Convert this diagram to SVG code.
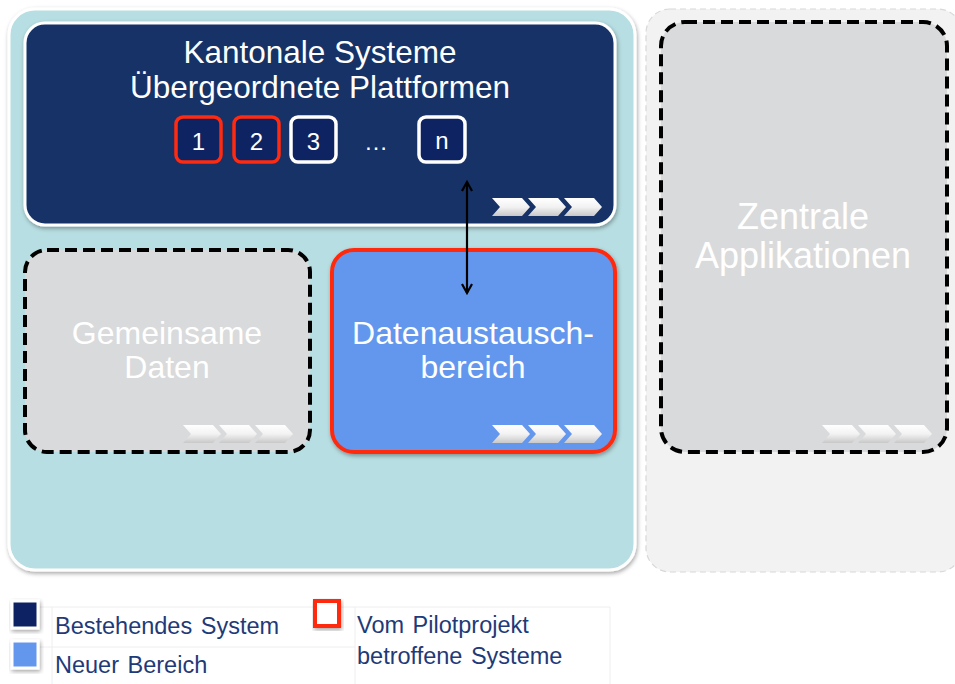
<svg xmlns="http://www.w3.org/2000/svg" width="955" height="684" viewBox="0 0 955 684">
<defs>
<style>
.t{font-family:"Liberation Sans",Arial,sans-serif;fill:#fff;text-anchor:middle}
.big{font-size:31.5px}
.dash{fill:#d9dadb;stroke:#000;stroke-width:4;stroke-dasharray:12 6}
.sb{fill:#0e2462;stroke-width:3.5}
.leg{font-family:"Liberation Sans",Arial,sans-serif;font-size:23.5px;fill:#1f3a78;word-spacing:2px}
.grid{stroke:#eeeeee;stroke-width:1;fill:none}
</style>
<filter id="sh" x="-10%" y="-10%" width="130%" height="130%">
<feDropShadow dx="1" dy="2" stdDeviation="2" flood-color="#000" flood-opacity="0.35"/>
</filter>
<linearGradient id="cg" x1="0" y1="0" x2="0" y2="1">
<stop offset="0" stop-color="#ffffff"/>
<stop offset="0.5" stop-color="#f2f2f2"/>
<stop offset="1" stop-color="#c8c8c8"/>
</linearGradient>
<g id="chev">
<path d="M0,0 H30 L38,9 L30,18 H0 L8,9 Z" fill="url(#cg)"/>
<path d="M36,0 H66 L74,9 L66,18 H36 L44,9 Z" fill="url(#cg)"/>
<path d="M72,0 H102 L110,9 L102,18 H72 L80,9 Z" fill="url(#cg)"/>
</g>
<marker id="ah" viewBox="0 0 12 12" refX="10" refY="6" markerWidth="12" markerHeight="12" markerUnits="userSpaceOnUse" orient="auto-start-reverse">
<path d="M1,1 L10,6 L1,11" fill="none" stroke="#000" stroke-width="2.2"/>
</marker>
</defs>
<rect width="955" height="684" fill="#fff"/>

<g id="outer">
<rect x="9" y="9" width="626" height="561" rx="26" fill="#b7dee2" stroke="#fff" stroke-width="3" filter="url(#sh)"/>
</g>

<g id="rightContainer">
<rect x="646" y="9" width="316" height="563" rx="24" fill="#f2f2f2" stroke="#d8d8d8" stroke-width="1.2" stroke-dasharray="6 4"/>
</g>

<g id="kantonale">
<rect x="25" y="23" width="590" height="202" rx="20" fill="#143366" stroke="#fff" stroke-width="3" filter="url(#sh)"/>
<text class="t big" x="320" y="63">Kantonale Systeme</text>
<text class="t big" x="320" y="98">Übergeordnete Plattformen</text>
<use href="#chev" x="492" y="198"/>
</g>

<g id="sys1"><rect class="sb" x="176" y="117" width="45" height="45" rx="7" stroke="#ff2a10"/><text class="t" x="198.5" y="150" font-size="24">1</text></g>
<g id="sys2"><rect class="sb" x="234" y="117" width="45" height="45" rx="7" stroke="#ff2a10"/><text class="t" x="256.5" y="150" font-size="24">2</text></g>
<g id="sys3"><rect class="sb" x="291" y="117" width="45" height="45" rx="7" stroke="#fff"/><text class="t" x="313.5" y="150" font-size="24">3</text></g>
<g id="dots"><text class="t" x="376" y="150" font-size="24">…</text></g>
<g id="sysn"><rect class="sb" x="419" y="117" width="46" height="45" rx="7" stroke="#fff"/><text class="t" x="442" y="149" font-size="24">n</text></g>

<g id="gemeinsam">
<rect class="dash" x="25" y="250" width="285" height="202" rx="22"/>
<use href="#chev" x="183" y="425"/>
<text class="t" font-size="32" x="167" y="344">Gemeinsame</text>
<text class="t" font-size="32" x="167" y="378">Daten</text>
</g>

<g id="datenaustausch">
<rect x="332" y="250" width="283" height="202" rx="22" fill="#6497ee" stroke="#ff2a10" stroke-width="4" filter="url(#sh)"/>
<use href="#chev" x="492" y="425"/>
<text class="t" font-size="32" x="473" y="344">Datenaustausch-</text>
<text class="t" font-size="32" x="473" y="378">bereich</text>
</g>

<g id="zentrale">
<rect class="dash" x="661" y="22" width="286" height="430" rx="24"/>
<use href="#chev" x="822" y="425"/>
<text class="t" font-size="36" x="803" y="229">Zentrale</text>
<text class="t" font-size="36" x="803" y="268">Applikationen</text>
</g>

<g id="connectors">
<line x1="467" y1="182" x2="467" y2="293" stroke="#000" stroke-width="2.2" marker-start="url(#ah)" marker-end="url(#ah)"/>
</g>

<g id="legend">
<path class="grid" d="M40,607 H610 M40,647 H355 M52,607 V684 M355,607 V684 M610,607 V684"/>
<rect x="12" y="601" width="26" height="27" fill="#0e2462" stroke="#fff" stroke-width="3" filter="url(#sh)"/>
<rect x="12" y="641" width="26" height="27" fill="#6497ee" stroke="#fff" stroke-width="3" filter="url(#sh)"/>
<rect x="315" y="601" width="24" height="25" fill="#fff" stroke="#ff2a10" stroke-width="4" filter="url(#sh)"/>
<text class="leg" x="55" y="634">Bestehendes System</text>
<text class="leg" x="55" y="673">Neuer Bereich</text>
<text class="leg" x="357" y="633">Vom Pilotprojekt</text>
<text class="leg" x="357" y="664">betroffene Systeme</text>
</g>
</svg>
